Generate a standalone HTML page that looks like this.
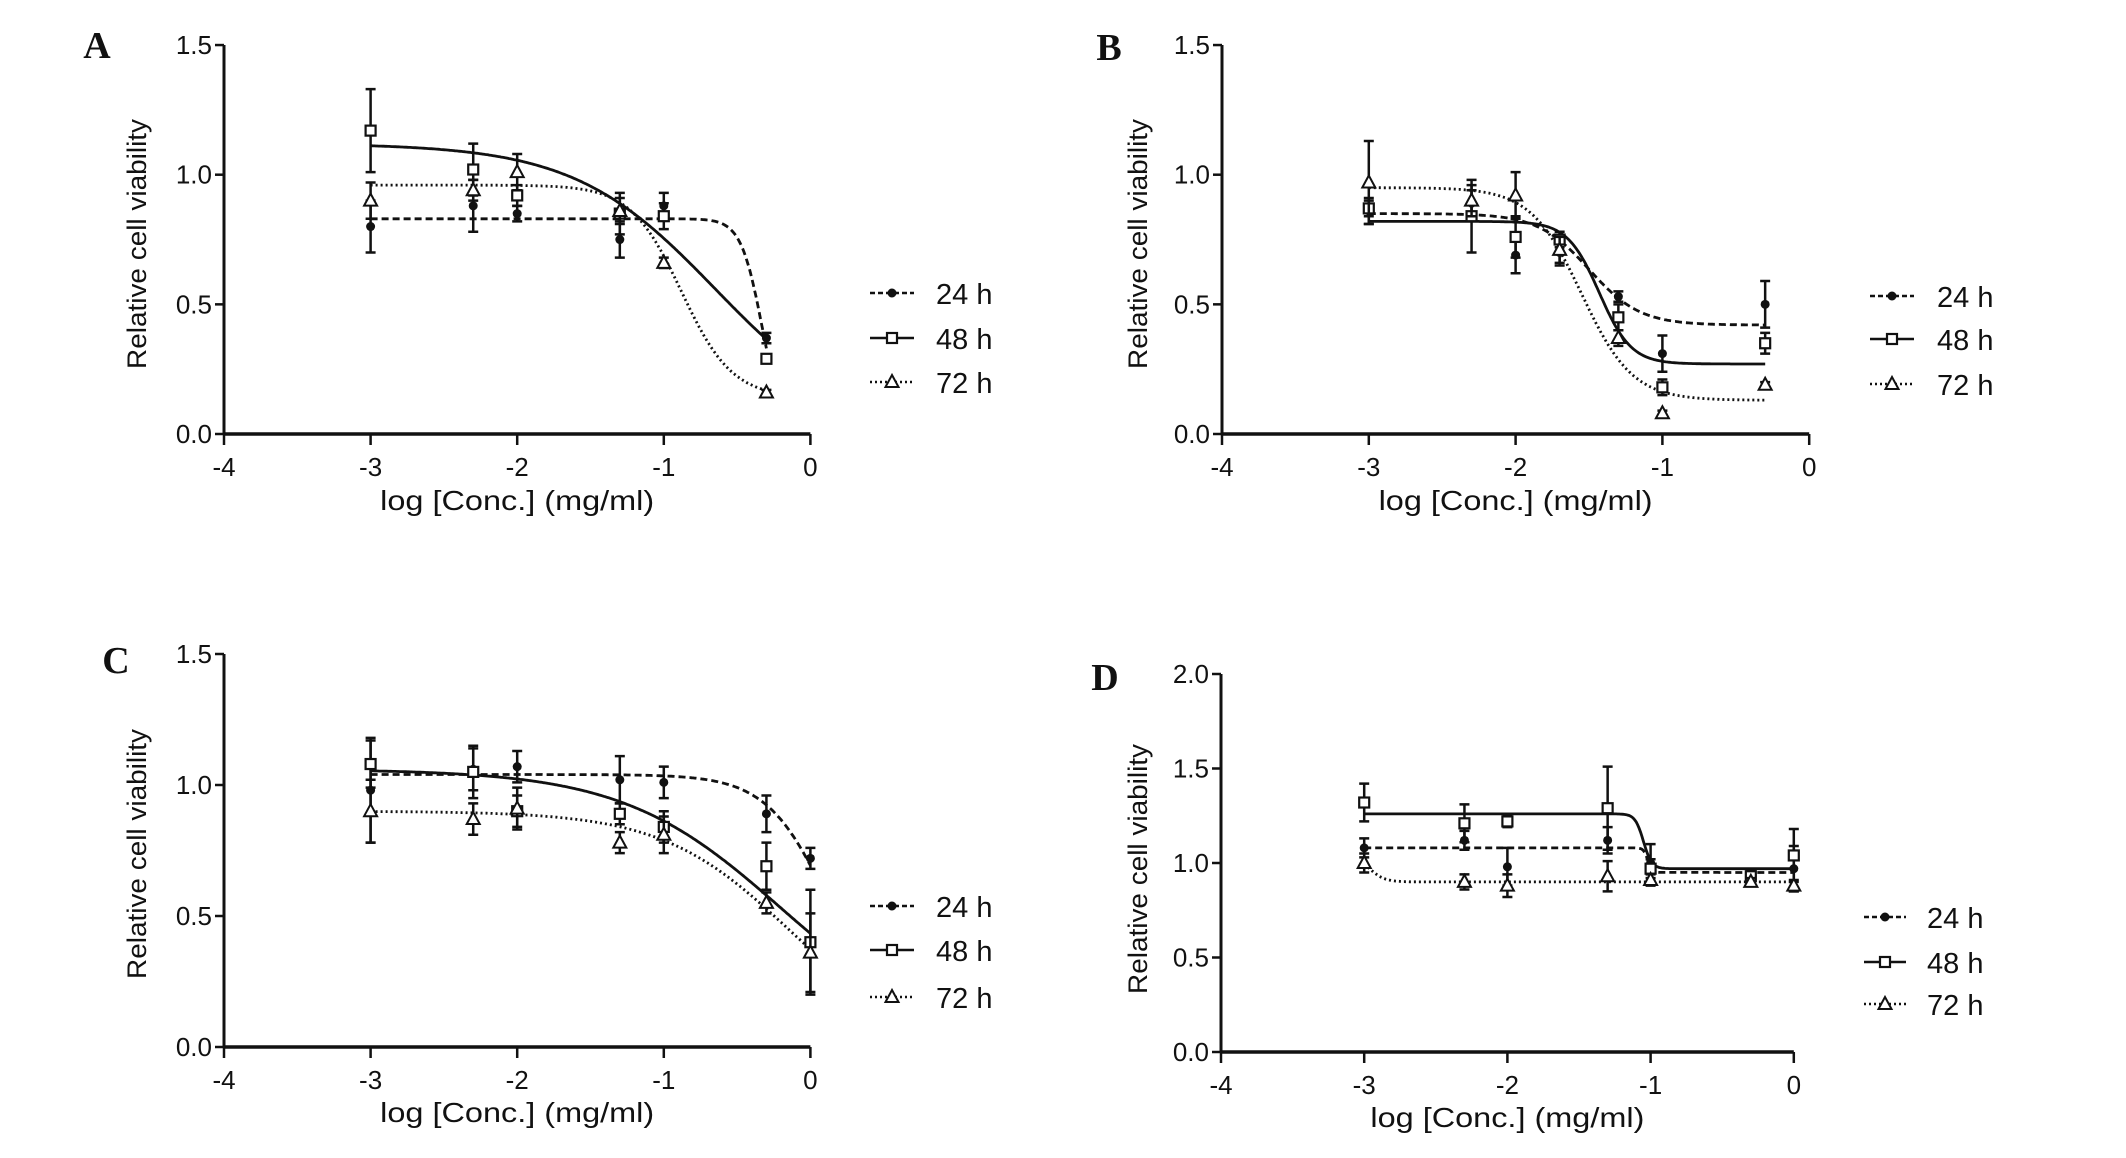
<!DOCTYPE html>
<html><head><meta charset="utf-8"><style>
html,body{margin:0;padding:0;background:#fff;}
svg{display:block;}
text{font-family:"Liberation Sans",Arial,sans-serif;fill:#111;}
.pl{font-family:"Liberation Serif",serif;font-weight:bold;}
</style></head><body>
<svg id="fig" width="2126" height="1158" viewBox="0 0 2126 1158" xmlns="http://www.w3.org/2000/svg"></svg>
<script>
const xA=[-3,-2.3,-2,-1.3,-1,-0.3];
const a24=[0.80,0.88,0.85,0.75,0.88,0.37], a24e=[0.10,0.10,0.03,0.07,0.05,0.02];
const a48=[1.17,1.02,0.92,0.85,0.84,0.29], a48e=[0.16,0.10,0.04,0.08,0.05,0.01];
const a72=[0.90,0.94,1.01,0.86,0.66,0.16], a72e=[0.07,0.04,0.07,0.05,0.02,0.01];
const aFit=[[0.83,0,-0.33,6],[1.12,0,-0.65,0.9],[0.96,0.14,-0.88,2.5]];

const xB=[-3,-2.3,-2,-1.7,-1.3,-1,-0.3];
const b24=[0.86,0.89,0.69,0.70,0.53,0.31,0.50], b24e=[0.05,0.05,0.07,0.05,0.02,0.07,0.09];
const b48=[0.87,0.84,0.76,0.75,0.45,0.18,0.35], b48e=[0.03,0.14,0.08,0.03,0.05,0.03,0.04];
const b72=[0.97,0.90,0.92,0.71,0.37,0.08,0.19], b72e=[0.16,0.06,0.09,0.05,0.03,0.01,0.01];
const bFit=[[0.85,0.42,-1.5,2.5],[0.82,0.27,-1.43,4],[0.95,0.13,-1.55,2.5]];

const xC=[-3,-2.3,-2,-1.3,-1,-0.3,0];
const c24=[0.98,1.06,1.07,1.02,1.01,0.89,0.72], c24e=[0.20,0.08,0.06,0.09,0.06,0.07,0.04];
const c48=[1.08,1.05,0.90,0.89,0.84,0.69,0.40], c48e=[0.09,0.10,0.06,0.04,0.06,0.09,0.20];
const c72=[0.90,0.87,0.91,0.78,0.81,0.55,0.36], c72e=[0.12,0.06,0.08,0.04,0.07,0.04,0.15];
const cFit=[[1.04,0,0.15,2],[1.06,0,-0.2,0.8],[0.90,0,-0.15,1.0]];

const xD=[-3,-2.3,-2,-1.3,-1,-0.3,0];
const d24=[1.08,1.12,0.98,1.12,1.00,0.92,0.97], d24e=[0.05,0.05,0.10,0.07,0.10,0.03,0.12];
const d48=[1.32,1.21,1.22,1.29,0.97,0.93,1.04], d48e=[0.10,0.10,0.03,0.22,0.05,0.03,0.14];
const d72=[1.00,0.90,0.88,0.93,0.91,0.90,0.88], d72e=[0.05,0.04,0.06,0.08,0.03,0.02,0.03];
const dFit=[[1.08,0.95,-1.02,30],[1.26,0.97,-1.05,15],[1.05,0.90,-2.97,8]];

const xTicks=[-4,-3,-2,-1,0];
const yTicksABC=[0,0.5,1.0,1.5], yTicksD=[0,0.5,1.0,1.5,2.0];
const legendLabels=['24 h','48 h','72 h'];

const NS='http://www.w3.org/2000/svg';
const svg=document.getElementById('fig');
function mk(tag,attrs,parent){const e=document.createElementNS(NS,tag);for(const k in attrs)e.setAttribute(k,attrs[k]);(parent||svg).appendChild(e);return e;}
const dashes=['7,4','none','2,3'];

const panels=[
 {id:'a',L:'A',lx:97,ly:58,ax:224,x0u:146.6,y0:434,yu:259.3,yt:yTicksABC,xs:xA,ser:[[a24,a24e],[a48,a48e],[a72,a72e]],fit:aFit,leg:[870,914,936,[293,338,382]],ytx:137,yty:244,xty:510,tly:476},
 {id:'b',L:'B',lx:1109,ly:60,ax:1222,x0u:146.8,y0:434,yu:259.3,yt:yTicksABC,xs:xB,ser:[[b24,b24e],[b48,b48e],[b72,b72e]],fit:bFit,leg:[1870,1914,1937,[296,339,384]],ytx:1138,yty:244,xty:510,tly:476},
 {id:'c',L:'C',lx:116,ly:673,ax:224,x0u:146.6,y0:1047,yu:262,yt:yTicksABC,xs:xC,ser:[[c24,c24e],[c48,c48e],[c72,c72e]],fit:cFit,leg:[870,914,936,[906,950,997]],ytx:137,yty:854,xty:1122,tly:1089},
 {id:'d',L:'D',lx:1105,ly:690,ax:1221,x0u:143.2,y0:1052,yu:189,yt:yTicksD,xs:xD,ser:[[d24,d24e],[d48,d48e],[d72,d72e]],fit:dFit,leg:[1864,1906,1927,[917,962,1004]],ytx:1138,yty:869,xty:1127,tly:1094}
];

function marker(g,k,cx,cy){
  let m;
  if(k===0){m=mk('circle',{cx:cx,cy:cy,r:4.5,fill:'#111'},g);}
  else if(k===1){m=mk('rect',{x:cx-5,y:cy-5,width:10,height:10,fill:'#fff',stroke:'#111','stroke-width':2.2},g);}
  else {m=mk('path',{d:`M${cx},${cy-7}L${cx+6.5},${cy+5}L${cx-6.5},${cy+5}Z`,fill:'#fff',stroke:'#111','stroke-width':2},g);}
  return m;
}

panels.forEach(p=>{
  const X=v=>p.ax+(v+4)*p.x0u;
  const Y=v=>p.y0-v*p.yu;
  const g=mk('g',{});
  
  
  const lab=mk('text',{x:p.lx,y:p.ly,'font-size':38,'text-anchor':'middle',class:'pl'},g);
  lab.textContent=p.L;
  
  
  const ymax=p.yt[p.yt.length-1];
  const ya=mk('line',{x1:p.ax,y1:Y(ymax),x2:p.ax,y2:p.y0,stroke:'#111','stroke-width':3},g);
  
  
  const xa=mk('line',{x1:p.ax,y1:p.y0,x2:X(0),y2:p.y0,stroke:'#111','stroke-width':3.5},g);
  
  
  p.yt.forEach(t=>{
    mk('line',{x1:p.ax-9,y1:Y(t),x2:p.ax,y2:Y(t),stroke:'#111','stroke-width':2.5},g);
    const tx=mk('text',{x:p.ax-12,y:Y(t)+9,'font-size':26,'text-anchor':'end'},g);
    tx.textContent=t.toFixed(1);
    
    
  });
  xTicks.forEach(t=>{
    mk('line',{x1:X(t),y1:p.y0,x2:X(t),y2:p.y0+11,stroke:'#111','stroke-width':2.5},g);
    const tx=mk('text',{x:X(t),y:p.tly,'font-size':26,'text-anchor':'middle'},g);
    tx.textContent=String(t);
    
    
  });
  const xt=mk('text',{x:(p.ax+X(0))/2,y:p.xty,'font-size':28,'text-anchor':'middle',textLength:274,lengthAdjust:'spacingAndGlyphs'},g);
  xt.textContent='log [Conc.] (mg/ml)';
  
  
  const yt=mk('text',{x:0,y:0,'font-size':27,'text-anchor':'middle',transform:`translate(${p.ytx+9},${p.yty}) rotate(-90)`,textLength:250,lengthAdjust:'spacingAndGlyphs'},g);
  yt.textContent='Relative cell viability';
  
  
  p.fit.forEach((f,k)=>{
    const [top,bot,ic,h]=f;
    const x1=p.xs[0],x2=p.xs[p.xs.length-1];
    let d='';
    for(let i=0;i<=300;i++){const x=x1+(x2-x1)*i/300;const y=bot+(top-bot)/(1+Math.pow(10,(x-ic)*h));d+=(i?'L':'M')+X(x).toFixed(1)+','+Y(y).toFixed(1);}
    const c=mk('path',{d:d,fill:'none',stroke:'#111','stroke-width':2.8,'stroke-dasharray':dashes[k]},g);
    
    
  });
  p.ser.forEach((s,k)=>{
    const [vals,errs]=s;
    vals.forEach((v,i)=>{
      const cx=X(p.xs[i]),cy=Y(v),e=errs[i];
      const eb=mk('path',{d:`M${cx},${Y(v+e)}V${Y(v-e)}M${cx-5},${Y(v+e)}h10M${cx-5},${Y(v-e)}h10`,stroke:'#111','stroke-width':2.5,fill:'none'},g);
      
      
      const m=marker(g,k,cx,cy);
      
      
    });
  });
  const [l1,l2,tx0,rows]=p.leg;
  legendLabels.forEach((lb,k)=>{
    const lg=mk('g',{},g);
    
    
    mk('line',{x1:l1,y1:rows[k],x2:l2,y2:rows[k],stroke:'#111','stroke-width':2.5,'stroke-dasharray':dashes[k]==='none'?'none':(k===0?'5,3':'2,3')},lg);
    marker(lg,k,(l1+l2)/2,rows[k]);
    const t=mk('text',{x:tx0,y:rows[k]+11,'font-size':29},lg);
    t.textContent=lb;
  });
});
</script>
</body></html>
